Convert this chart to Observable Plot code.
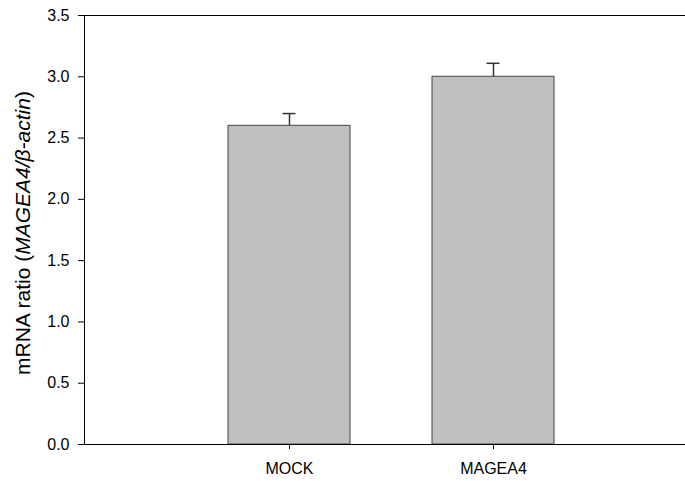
<!DOCTYPE html>
<html>
<head>
<meta charset="utf-8">
<script src="https://cdn.jsdelivr.net/npm/d3@7"></script>
<script src="https://cdn.jsdelivr.net/npm/@observablehq/plot@0.6"></script>
<style>
  html, body { margin: 0; padding: 0; background: #fff; }
  #chart { width: 685px; height: 481px; overflow: hidden; }
</style>
</head>
<body>
<div id="chart"></div>
<script>
const categories = ["MOCK", "MAGEA4"];
const means = [2.6, 3.0];
const errors = [0.1, 0.11];
const yTicks = [0, 0.5, 1.0, 1.5, 2.0, 2.5, 3.0, 3.5];

const data = categories.map((c, i) => ({cat: c, mean: means[i], top: means[i] + errors[i]}));

const font = "'Liberation Sans', Arial, sans-serif";

const chart = Plot.plot({
  width: 685,
  height: 481,
  marginLeft: 84,
  marginRight: -12,
  marginTop: 15,
  marginBottom: 37,
  style: {fontFamily: font, fontSize: "16px", color: "#000", background: "#fff", overflow: "hidden"},
  x: {domain: categories, paddingInner: 0.402, paddingOuter: 0.701, label: null},
  y: {domain: [0, 3.5], label: null},
  marks: [
    Plot.ruleX(data, {x: "cat", y1: "mean", y2: "top", stroke: "#333", strokeWidth: 1.5}),
    Plot.tickY(data, {x: "cat", y: "top", stroke: "#333", strokeWidth: 1.5, insetLeft: 54.5, insetRight: 54.5}),
    Plot.barY(data, {x: "cat", y: "mean", fill: "#c0c0c0", stroke: "#444", strokeWidth: 1}),
    Plot.frame({anchor: "left", stroke: "#000", strokeWidth: 1}),
    Plot.frame({anchor: "top", stroke: "#000", strokeWidth: 1}),
    Plot.frame({anchor: "bottom", stroke: "#000", strokeWidth: 1}),
    Plot.axisY({ticks: yTicks, tickFormat: d3.format(".1f"), tickSize: 6, tickPadding: 9, fontSize: 16, stroke: "#000"}),
    Plot.axisX({tickSize: 5, tickPadding: 13, fontSize: 16, stroke: "#000"})
  ]
});

document.getElementById("chart").appendChild(chart);

const svg = d3.select(chart);
const lbl = svg.append("text")
  .attr("transform", "translate(30,233) rotate(-90)")
  .attr("text-anchor", "middle")
  .attr("font-family", font)
  .attr("font-size", 21)
  .attr("fill", "#000");
lbl.append("tspan").text("mRNA ratio (");
lbl.append("tspan").attr("font-style", "italic").text("MAGEA4/β-actin");
lbl.append("tspan").text(")");
</script>
</body>
</html>
